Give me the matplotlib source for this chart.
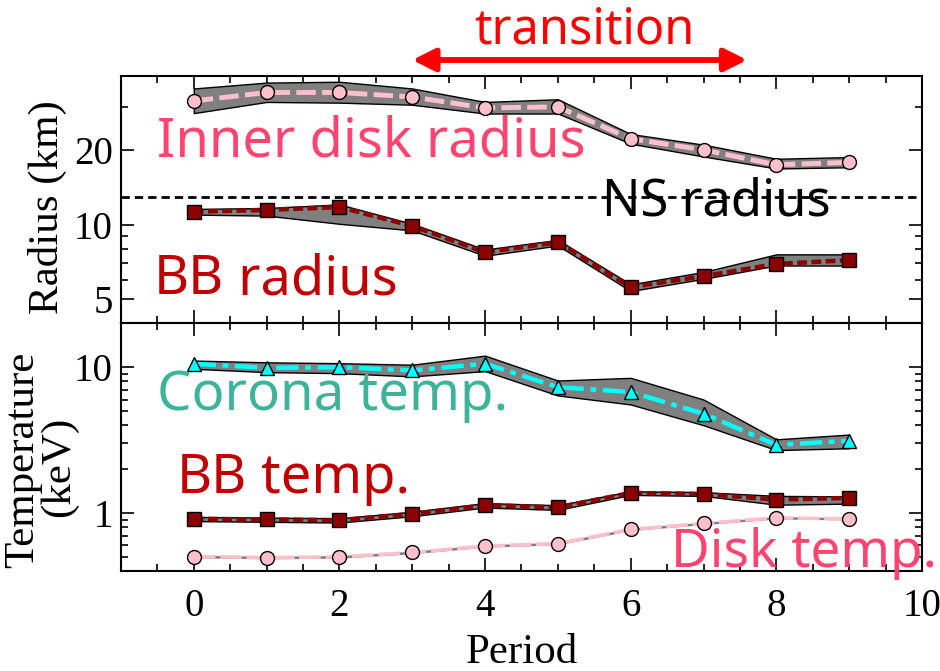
import numpy as np
import matplotlib
matplotlib.use("Agg")
import matplotlib.pyplot as plt
from matplotlib.ticker import FixedLocator, FixedFormatter, NullFormatter, MultipleLocator
from matplotlib.transforms import blended_transform_factory

# periods
period = [0, 1, 2, 3, 4, 5, 6, 7, 8, 9]

# radius panel (km)
r_in = [31.7, 34.3, 34.3, 32.9, 29.7, 30.0, 22.3, 20.1, 17.5, 17.9]
r_in_hi = [35.6, 37.6, 37.9, 35.6, 31.4, 32.2, 23.3, 21.1, 18.5, 18.8]
r_in_lo = [28.3, 31.4, 31.2, 30.6, 28.2, 28.2, 21.3, 18.9, 16.9, 17.1]

r_bb = [11.3, 11.5, 11.8, 9.9, 7.75, 8.5, 5.6, 6.2, 6.95, 7.2]
r_bb_hi = [11.6, 11.7, 12.1, 10.1, 7.95, 8.7, 5.75, 6.45, 7.6, 7.6]
r_bb_lo = [11.0, 10.9, 10.1, 9.5, 7.5, 8.25, 5.4, 6.05, 6.85, 6.85]

ns_radius = 13.0

# temperature panel (keV)
t_cor = [10.55, 9.9, 10.0, 9.5, 10.55, 7.3, 6.75, 4.8, 2.93, 3.13]
t_cor_hi = [11.1, 10.8, 10.65, 10.4, 12.0, 8.1, 8.45, 6.0, 3.2, 3.45]
t_cor_lo = [9.75, 9.25, 9.1, 8.65, 9.4, 6.4, 5.55, 4.0, 2.7, 2.78]

t_bb = [0.913, 0.903, 0.893, 0.987, 1.13, 1.095, 1.373, 1.35, 1.236, 1.269]
t_bb_hi = [0.94, 0.93, 0.92, 1.02, 1.17, 1.13, 1.41, 1.39, 1.31, 1.30]
t_bb_lo = [0.88, 0.87, 0.86, 0.95, 1.09, 1.05, 1.33, 1.31, 1.14, 1.16]

t_disk = [0.503, 0.495, 0.50, 0.536, 0.594, 0.617, 0.772, 0.848, 0.927, 0.913]
t_disk_hi = [0.507, 0.499, 0.504, 0.540, 0.598, 0.621, 0.777, 0.853, 0.932, 0.918]
t_disk_lo = [0.499, 0.491, 0.496, 0.532, 0.590, 0.613, 0.767, 0.843, 0.922, 0.908]

transition = (3.0, 7.6)

serif = "Liberation Serif"
sans = "Noto Sans"

fig = plt.figure(figsize=(9.4, 6.71), dpi=100)
ax1 = fig.add_axes([0.1287, 0.5182, 0.8521, 0.3686])
ax2 = fig.add_axes([0.1287, 0.149, 0.8521, 0.3692], sharex=ax1)

def band(ax, lo, hi):
    ax.fill_between(period, lo, hi, facecolor="#808080", edgecolor="black",
                    linewidth=1.0, zorder=2)

# --- top panel
band(ax1, r_in_lo, r_in_hi)
ax1.plot(period, r_in, color="pink", lw=3.5, dashes=(4, 1.3), zorder=3)
ax1.plot(period, r_in, ls="none", marker="o", ms=10, mfc="pink", mec="black",
         mew=1.0, zorder=4)

band(ax1, r_bb_lo, r_bb_hi)
ax1.plot(period, r_bb, color="darkred", lw=3.2, dashes=(2.2, 1), zorder=3)
ax1.plot(period, r_bb, ls="none", marker="s", ms=9.5, mfc="darkred", mec="black",
         mew=1.0, zorder=4)

ax1.axhline(ns_radius, color="black", lw=2.0, dashes=(3, 1.8), zorder=1)

ax1.set_yscale("log")
ax1.set_ylim(4, 40)
ax1.yaxis.set_major_locator(FixedLocator([5, 10, 20]))
ax1.yaxis.set_minor_locator(FixedLocator([4, 6, 7, 8, 9, 30, 40]))
ax1.yaxis.set_major_formatter(FixedFormatter(["5", "10", "20"]))
ax1.yaxis.set_minor_formatter(NullFormatter())
ax1.set_ylabel("Radius (km)", fontsize=31, family=serif)
ax1.yaxis.set_label_coords(-0.067, 0.47)

# --- bottom panel
band(ax2, t_cor_lo, t_cor_hi)
ax2.plot(period, t_cor, color="cyan", lw=3.2, dashes=(5, 1.5, 1.3, 1.5), zorder=3)
ax2.plot(period, t_cor, ls="none", marker="^", ms=10.5, mfc="cyan", mec="black",
         mew=1.0, zorder=4)

band(ax2, t_bb_lo, t_bb_hi)
ax2.plot(period, t_bb, color="darkred", lw=3.2, dashes=(2.2, 1), zorder=3)
ax2.plot(period, t_bb, ls="none", marker="s", ms=9.5, mfc="darkred", mec="black",
         mew=1.0, zorder=4)

ax2.fill_between(period, t_disk_lo, t_disk_hi, facecolor="#808080",
                 edgecolor="#808080", linewidth=1.2, zorder=2)
ax2.plot(period, t_disk, color="pink", lw=2.6, dashes=(6, 1.3), zorder=3)
ax2.plot(period, t_disk, ls="none", marker="o", ms=10, mfc="pink", mec="black",
         mew=1.0, zorder=4)

ax2.set_yscale("log")
ax2.set_ylim(0.4, 20)
ax2.yaxis.set_major_locator(FixedLocator([1, 10]))
ax2.yaxis.set_minor_locator(FixedLocator([0.4, 0.5, 0.6, 0.7, 0.8, 0.9,
                                          2, 3, 4, 5, 6, 7, 8, 9, 20]))
ax2.yaxis.set_major_formatter(FixedFormatter(["1", "10"]))
ax2.yaxis.set_minor_formatter(NullFormatter())

# two-line y label drawn as two rotated texts
ax2.text(-0.122, 0.45, "Temperature", transform=ax2.transAxes, rotation=90,
         fontsize=31, family=serif, ha="center", va="center")
ax2.text(-0.077, 0.42, "(keV)", transform=ax2.transAxes, rotation=90,
         fontsize=31, family=serif, ha="center", va="center")

ax2.set_xlim(-1, 10)
ax2.xaxis.set_major_locator(FixedLocator([0, 2, 4, 6, 8, 10]))
ax2.xaxis.set_minor_locator(MultipleLocator(0.5))
ax2.set_xlabel("Period", fontsize=31, family=serif, labelpad=6)

for ax in (ax1, ax2):
    for s in ax.spines.values():
        s.set_linewidth(1.5)
    ax.tick_params(which="both", direction="in", top=True, right=True, width=1.2)
    ax.tick_params(which="major", length=9.5)
    ax.tick_params(which="minor", length=5)
    ax.tick_params(axis="y", labelsize=28, pad=6)
    ax.tick_params(axis="x", labelsize=28, pad=12)
    for lab in ax.get_yticklabels() + ax.get_xticklabels():
        lab.set_family(serif)
plt.setp(ax1.get_xticklabels(), visible=False)

# --- annotations
pinkred = "#ff4470"
bbred = "#c00000"

def bb_label(ax, x, y, rest, size):
    t = ax.text(x, y, "BB", fontsize=size, family=sans, weight="bold",
                color=bbred, va="baseline", ha="left", zorder=5)
    ax.annotate(rest, xy=(1, 0), xycoords=t, fontsize=size, family=sans,
                color=bbred, va="bottom", ha="left", zorder=5)

ax1.text(-0.5, 18.9, "Inner disk radius", fontsize=39, family=sans,
         color=pinkred, va="baseline", ha="left", zorder=5)
bb_label(ax1, -0.556, 5.24, " radius", 39)
ax1.text(5.61, 10.88, "NS radius", fontsize=36.5, family=sans,
         color="black", va="baseline", ha="left", zorder=5)
ax2.text(-0.51, 5.07, "Corona temp.", fontsize=39.3, family=sans,
         color="#3db39a", va="baseline", ha="left", zorder=5)
bb_label(ax2, -0.237, 1.373, " temp.", 39)
ax2.text(6.55, 0.423, "Disk temp.", fontsize=38.3, family=sans,
         color=pinkred, va="baseline", ha="left", zorder=5, clip_on=False)

ax1.annotate("", xy=(transition[0], 0.9106), xytext=(transition[1], 0.9106),
             xycoords=("data", "figure fraction"),
             textcoords=("data", "figure fraction"),
             arrowprops=dict(arrowstyle="<|-|>", color="red", lw=4.2,
                             mutation_scale=34, shrinkA=0, shrinkB=0))
ax1.text(5.37, 0.9355, "transition", fontsize=35, family=sans, color="red",
         ha="center", va="baseline",
         transform=blended_transform_factory(ax1.transData, fig.transFigure))

fig.savefig("out.png", dpi=100)
